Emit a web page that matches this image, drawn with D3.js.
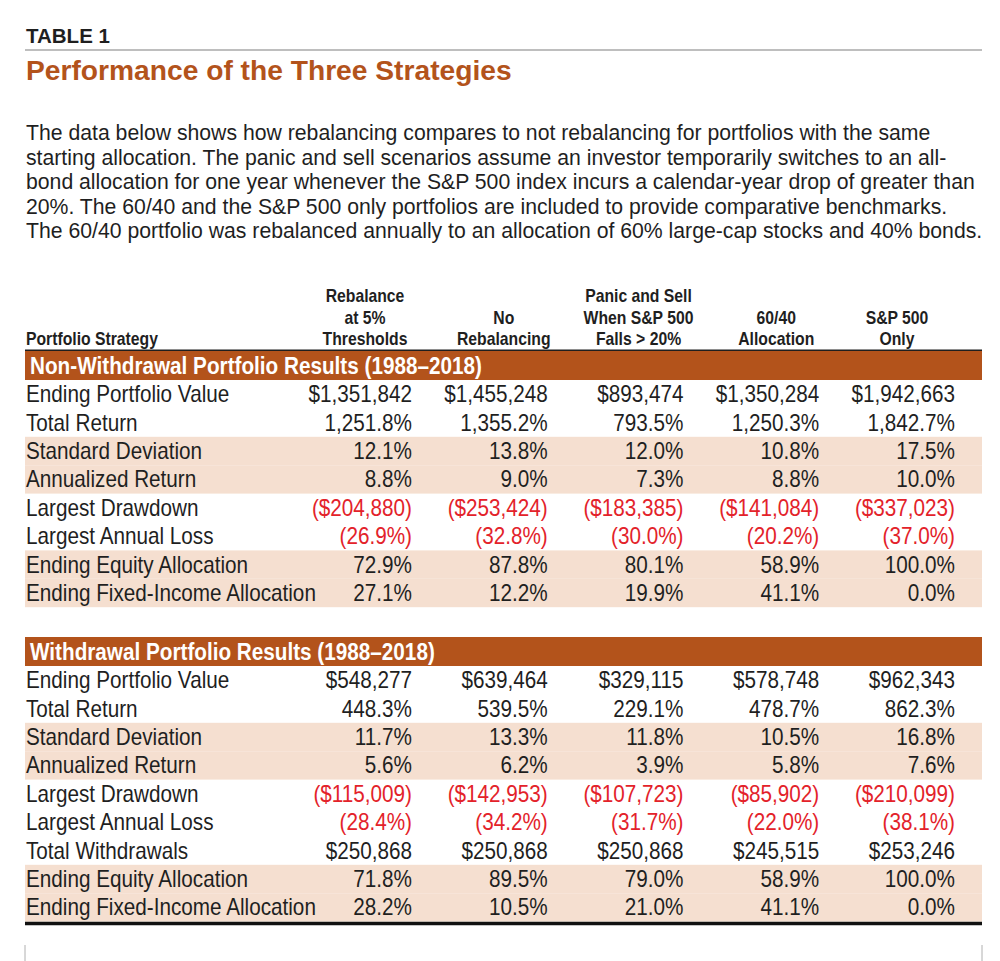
<!DOCTYPE html>
<html>
<head>
<meta charset="utf-8">
<script src="https://cdn.jsdelivr.net/npm/d3@7"></script>
<style>
  body { margin: 0; background: #fff; }
  svg { display: block; }
  text { font-family: "Liberation Sans", Arial, sans-serif; }
</style>
</head>
<body>
<svg width="1000" height="961"></svg>
<script>
var tableLabel = "TABLE 1";
var title = "Performance of the Three Strategies";
var intro = [
  "The data below shows how rebalancing compares to not rebalancing for portfolios with the same",
  "starting allocation. The panic and sell scenarios assume an investor temporarily switches to an all-",
  "bond allocation for one year whenever the S&P 500 index incurs a calendar-year drop of greater than",
  "20%. The 60/40 and the S&P 500 only portfolios are included to provide comparative benchmarks.",
  "The 60/40 portfolio was rebalanced annually to an allocation of 60% large-cap stocks and 40% bonds."
];

var strategies = [
  ["Rebalance", "at 5%", "Thresholds"],
  ["No", "Rebalancing"],
  ["Panic and Sell", "When S&P 500", "Falls > 20%"],
  ["60/40", "Allocation"],
  ["S&P 500", "Only"]
];

// section 1
var nonWdTitle = "Non-Withdrawal Portfolio Results (1988\u20132018)";
var nonWdLabels = [
  "Ending Portfolio Value", "Total Return", "Standard Deviation", "Annualized Return",
  "Largest Drawdown", "Largest Annual Loss", "Ending Equity Allocation", "Ending Fixed-Income Allocation"
];
var nonWdKinds = ["usd", "pct", "pct", "pct", "usd", "pct", "pct", "pct"];
var nonWdValues = [
  [1351842, 1455248, 893474, 1350284, 1942663],
  [1251.8, 1355.2, 793.5, 1250.3, 1842.7],
  [12.1, 13.8, 12.0, 10.8, 17.5],
  [8.8, 9.0, 7.3, 8.8, 10.0],
  [-204880, -253424, -183385, -141084, -337023],
  [-26.9, -32.8, -30.0, -20.2, -37.0],
  [72.9, 87.8, 80.1, 58.9, 100.0],
  [27.1, 12.2, 19.9, 41.1, 0.0]
];
var nonWdShaded = [2, 3, 6, 7];

// section 2
var wdTitle = "Withdrawal Portfolio Results (1988\u20132018)";
var wdLabels = [
  "Ending Portfolio Value", "Total Return", "Standard Deviation", "Annualized Return",
  "Largest Drawdown", "Largest Annual Loss", "Total Withdrawals", "Ending Equity Allocation",
  "Ending Fixed-Income Allocation"
];
var wdKinds = ["usd", "pct", "pct", "pct", "usd", "pct", "usd", "pct", "pct"];
var wdValues = [
  [548277, 639464, 329115, 578748, 962343],
  [448.3, 539.5, 229.1, 478.7, 862.3],
  [11.7, 13.3, 11.8, 10.5, 16.8],
  [5.6, 6.2, 3.9, 5.8, 7.6],
  [-115009, -142953, -107723, -85902, -210099],
  [-28.4, -34.2, -31.7, -22.0, -38.1],
  [250868, 250868, 250868, 245515, 253246],
  [71.8, 89.5, 79.0, 58.9, 100.0],
  [28.2, 10.5, 21.0, 41.1, 0.0]
];
var wdShaded = [2, 3, 7, 8];

var ORANGE = "#b3531b", SHADE = "#f5dfd0", RED = "#e3222a", INK = "#1f1f1f";
var left = 25, right = 982;
var SX = 0.9; // squeeze to mimic a condensed face

var fmtUsd = d3.format("$,.0f"), fmtPct = d3.format(",.1f");
function fmt(v, kind) {
  var s = kind === "usd" ? fmtUsd(Math.abs(v)) : fmtPct(Math.abs(v)) + "%";
  return v < 0 ? "(" + s + ")" : s;
}
function at(x, y, sx) {
  return "translate(" + x + "," + y + ") scale(" + (sx || SX) + ",1)";
}

var svg = d3.select("svg");

// heading
svg.append("text").attr("x", 26).attr("y", 43)
  .attr("font-weight", "bold").attr("font-size", 20.5).attr("fill", INK).text(tableLabel);
svg.append("line").attr("x1", left).attr("x2", right).attr("y1", 50).attr("y2", 50)
  .attr("stroke", "#a8a8a8").attr("stroke-width", 1.6);
svg.append("text").attr("x", 26).attr("y", 80)
  .attr("font-weight", "bold").attr("font-size", 28.2).attr("fill", ORANGE).text(title);

svg.append("g")
  .selectAll("text").data(intro).enter()
  .append("text")
  .attr("transform", function(d, i) { return at(26, 140 + i * 24.5, 0.943); })
  .attr("font-size", 22.5).attr("fill", INK)
  .text(function(d) { return d; });

// columns
var colX = d3.scalePoint().domain(d3.range(strategies.length)).range([412, 955]);
var headDx = [-47, -44, -45, -43, -58];

var head = svg.append("g").attr("font-weight", "bold").attr("font-size", 17.5).attr("fill", INK);
head.append("text").attr("transform", at(26, 345)).text("Portfolio Strategy");
head.selectAll("g.col").data(strategies).enter()
  .append("g").attr("class", "col")
  .each(function(lines, i) {
    var n = lines.length;
    d3.select(this).selectAll("text").data(lines).enter()
      .append("text")
      .attr("transform", function(d, j) { return at(colX(i) + headDx[i], 345 - (n - 1 - j) * 21.5); })
      .attr("text-anchor", "middle")
      .text(function(d) { return d; });
  });
svg.append("line").attr("x1", left).attr("x2", right).attr("y1", 350.5).attr("y2", 350.5)
  .attr("stroke", INK).attr("stroke-width", 2.2);

function section(top, name, labels, kinds, values, shaded) {
  var g = svg.append("g");
  g.append("rect").attr("x", left).attr("y", top).attr("width", right - left).attr("height", 29)
    .attr("fill", ORANGE);
  g.append("text").attr("transform", at(30, top + 23, 0.863))
    .attr("font-weight", "bold").attr("font-size", 24).attr("fill", "#fff").text(name);

  var y = d3.scaleBand().domain(d3.range(labels.length))
    .range([top + 29, top + 29 + labels.length * 28.4]);

  var rows = g.selectAll("g.row").data(labels).enter()
    .append("g").attr("class", "row")
    .attr("transform", function(d, i) { return "translate(0," + y(i) + ")"; });

  rows.filter(function(d, i) { return shaded.indexOf(i) >= 0; })
    .append("rect").attr("x", left).attr("width", right - left)
    .attr("height", y.bandwidth()).attr("fill", SHADE);

  rows.append("text").attr("transform", at(26, y.bandwidth() / 2 + 8))
    .attr("font-size", 23).attr("fill", INK).text(function(d) { return d; });

  rows.each(function(d, i) {
    d3.select(this).selectAll("text.val").data(values[i]).enter()
      .append("text").attr("class", "val")
      .attr("transform", function(v, j) { return at(colX(j), y.bandwidth() / 2 + 8); })
      .attr("text-anchor", "end")
      .attr("font-size", 23)
      .attr("fill", function(v) { return v < 0 ? RED : INK; })
      .text(function(v) { return fmt(v, kinds[i]); });
  });
  return y.range()[1];
}

section(351, nonWdTitle, nonWdLabels, nonWdKinds, nonWdValues, nonWdShaded);
var bottom = section(637, wdTitle, wdLabels, wdKinds, wdValues, wdShaded);

svg.append("line").attr("x1", left).attr("x2", right).attr("y1", bottom + 2).attr("y2", bottom + 2)
  .attr("stroke", "#111").attr("stroke-width", 3.5);

// page edge ticks
svg.selectAll("line.edge").data([left, right]).enter()
  .append("line").attr("class", "edge")
  .attr("x1", function(d) { return d; }).attr("x2", function(d) { return d; })
  .attr("y1", 945).attr("y2", 961)
  .attr("stroke", "#b0b0b0").attr("stroke-width", 1);
</script>
</body>
</html>
